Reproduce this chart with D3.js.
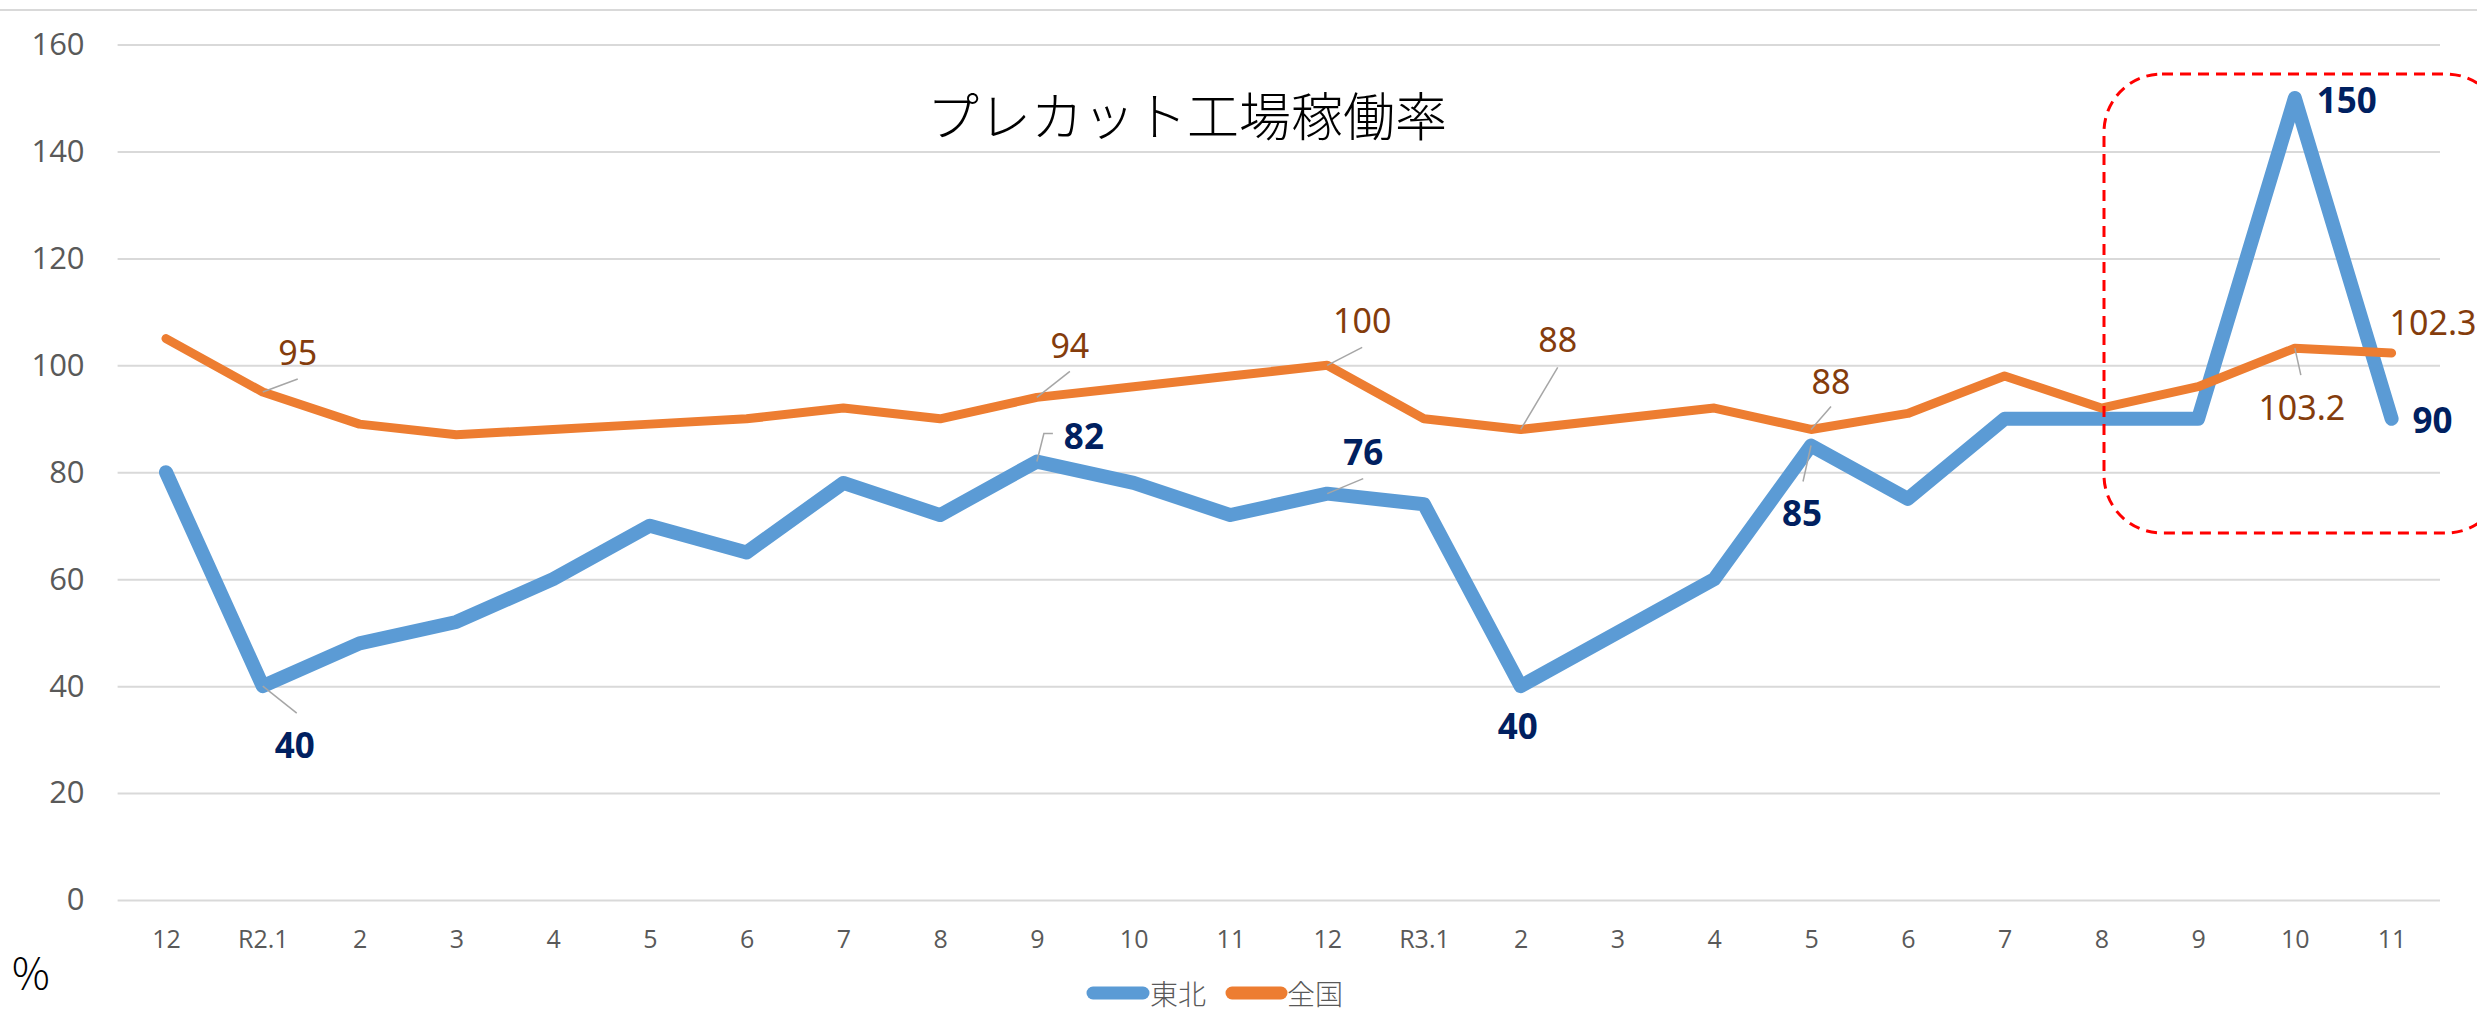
<!DOCTYPE html>
<html>
<head>
<meta charset="utf-8">
<script src="https://cdn.jsdelivr.net/npm/d3@7/dist/d3.min.js"></script>
<style>
  html, body { margin: 0; padding: 0; background: #fff; }
  svg { display: block; }
</style>
</head>
<body>
<svg id="chart" width="2477" height="1026"></svg>
<script>
// ---- data ----
const categories = ["12","R2.1","2","3","4","5","6","7","8","9","10","11","12","R3.1","2","3","4","5","6","7","8","9","10","11"];
const tohoku = [80,40,48,52,60,70,65,78,72,82,78,72,76,74,40,50,60,85,75,90,90,90,150,90];
const zenkoku = [105,95,89,87,88,89,90,92,90,94,96,98,100,90,88,90,92,88,91,98,92,96,103.2,102.3];
const yTicks = [0,20,40,60,80,100,120,140,160];
const seriesNames = ["東北","全国"];
const titleText = "プレカット工場稼働率";
const unitText = "%";

// label annotations: index into series, label offset, leader end offset
const tohokuLabels = [
  {i:1,  dx:32, dy:58, lx:34, ly:27},
  {i:9,  dx:47, dy:-26, elbow:true},
  {i:12, dx:36, dy:-42, lx:36, ly:-15},
  {i:14, dx:-3, dy:39},
  {i:17, dx:-9, dy:67, lx:-8, ly:36},
  {i:22, dx:52, dy:2},
  {i:23, dx:41, dy:1}
];
const zenkokuLabels = [
  {i:1,  dx:35, dy:-40, lx:35, ly:-13},
  {i:9,  dx:33, dy:-52, lx:33, ly:-26},
  {i:12, dx:35, dy:-45, lx:35, ly:-18},
  {i:14, dx:37, dy:-90, lx:37, ly:-62},
  {i:17, dx:20, dy:-48, lx:20, ly:-23},
  {i:22, dx:7,  dy:59, lx:6, ly:27},
  {i:23, dx:-2, dy:-31, anchor:"start"}
];

// ---- layout ----
const svg = d3.select("#chart");
const W = 2477, H = 1026;
const plotLeft = 117.6, plotRight = 2440, plotTop = 44.5, plotBottom = 900;

const x = d3.scalePoint().domain(d3.range(categories.length)).range([plotLeft, plotRight]).padding(0.5);
const y = d3.scaleLinear().domain([0,160]).range([plotBottom, plotTop]);

const BLUE = "#5B9BD5", ORANGE = "#ED7D31";
const BLUE_LBL = "#002060", ORANGE_LBL = "#843C0C";
const GRID = "#D9D9D9", AXIS_TXT = "#595959";

// top border line
svg.append("line").attr("x1",0).attr("x2",W).attr("y1",10).attr("y2",10)
  .attr("stroke",GRID).attr("stroke-width",2);

// gridlines + y labels
const yAxis = d3.axisLeft(y).tickValues(yTicks).tickSize(-(plotRight-plotLeft)).tickPadding(33);
const gy = svg.append("g").attr("transform",`translate(${plotLeft},0)`).call(yAxis);
gy.select(".domain").remove();
gy.selectAll(".tick line").attr("stroke",GRID).attr("stroke-width",2);
gy.selectAll(".tick text").attr("fill",AXIS_TXT).attr("font-family","'Open Sans','Noto Sans',sans-serif")
  .attr("font-size",31);

// x labels
const xAxis = d3.axisBottom(x).tickFormat(i => categories[i]).tickSize(0).tickPadding(30);
const gx = svg.append("g").attr("transform",`translate(0,${plotBottom})`).call(xAxis);
gx.select(".domain").remove();
gx.selectAll(".tick text").attr("fill",AXIS_TXT).attr("font-family","'Open Sans','Noto Sans',sans-serif")
  .attr("font-size",25);

// title
svg.append("text").attr("x",1187).attr("y",113).attr("text-anchor","middle")
  .attr("dominant-baseline","central")
  .attr("font-family","'Noto Sans CJK JP',sans-serif").attr("font-weight",300)
  .attr("font-size",52).attr("fill","#000").text(titleText);

// unit
svg.append("text").attr("x",12).attr("y",989)
  .attr("font-family","'Noto Sans CJK JP',sans-serif").attr("font-weight",300).attr("font-size",42)
  .attr("fill","#000").text(unitText);

// lines
const line = d3.line().x((d,i)=>x(i)).y(d=>y(d));
svg.append("path").datum(tohoku).attr("d",line).attr("fill","none")
  .attr("stroke",BLUE).attr("stroke-width",14).attr("stroke-linejoin","round").attr("stroke-linecap","round");
svg.append("path").datum(zenkoku).attr("d",line).attr("fill","none")
  .attr("stroke",ORANGE).attr("stroke-width",9).attr("stroke-linejoin","round").attr("stroke-linecap","round");

// leader lines & labels
function drawLabels(series, labels, color, weight) {
  const g = svg.append("g");
  labels.forEach(l => {
    const px = x(l.i), py = y(series[l.i]);
    if (l.lx !== undefined) {
      g.append("line").attr("x1",px).attr("y1",py).attr("x2",px+l.lx).attr("y2",py+l.ly)
        .attr("stroke","#A6A6A6").attr("stroke-width",1.5);
    }
    if (l.elbow) {
      g.append("polyline").attr("points",`${px},${py} ${px+7},${py-28} ${px+16},${py-28}`)
        .attr("fill","none").attr("stroke","#A6A6A6").attr("stroke-width",1.5);
    }
    g.append("text").attr("x",px+l.dx).attr("y",py+l.dy)
      .attr("text-anchor", l.anchor || "middle").attr("dominant-baseline","central")
      .attr("font-family","'Noto Sans','Open Sans',sans-serif")
      .attr("font-weight",weight).attr("font-size", weight===700?35:34)
      .attr("fill",color).text(series[l.i]);
  });
}
drawLabels(tohoku, tohokuLabels, BLUE_LBL, 700);
drawLabels(zenkoku, zenkokuLabels, ORANGE_LBL, 400);

// red dashed highlight
svg.append("rect").attr("x",2104).attr("y",74).attr("width",400).attr("height",459)
  .attr("rx",58).attr("ry",58).attr("fill","none").attr("stroke","#FF0000")
  .attr("stroke-width",3).attr("stroke-dasharray","11,7");

// legend
const legend = svg.append("g");
const legendItems = [
  {name: seriesNames[0], color: BLUE, x1: 1087, x2: 1149, tx: 1150},
  {name: seriesNames[1], color: ORANGE, x1: 1226, x2: 1287, tx: 1287}
];
legendItems.forEach(it => {
  legend.append("line").attr("x1",it.x1+6).attr("x2",it.x2-6).attr("y1",993).attr("y2",993)
    .attr("stroke",it.color).attr("stroke-width",13).attr("stroke-linecap","round");
  legend.append("text").attr("x",it.tx).attr("y",993).attr("dominant-baseline","central")
    .attr("font-family","'Noto Sans CJK JP',sans-serif").attr("font-weight",300)
    .attr("font-size",28).attr("fill",AXIS_TXT).text(it.name);
});
</script>
</body>
</html>
